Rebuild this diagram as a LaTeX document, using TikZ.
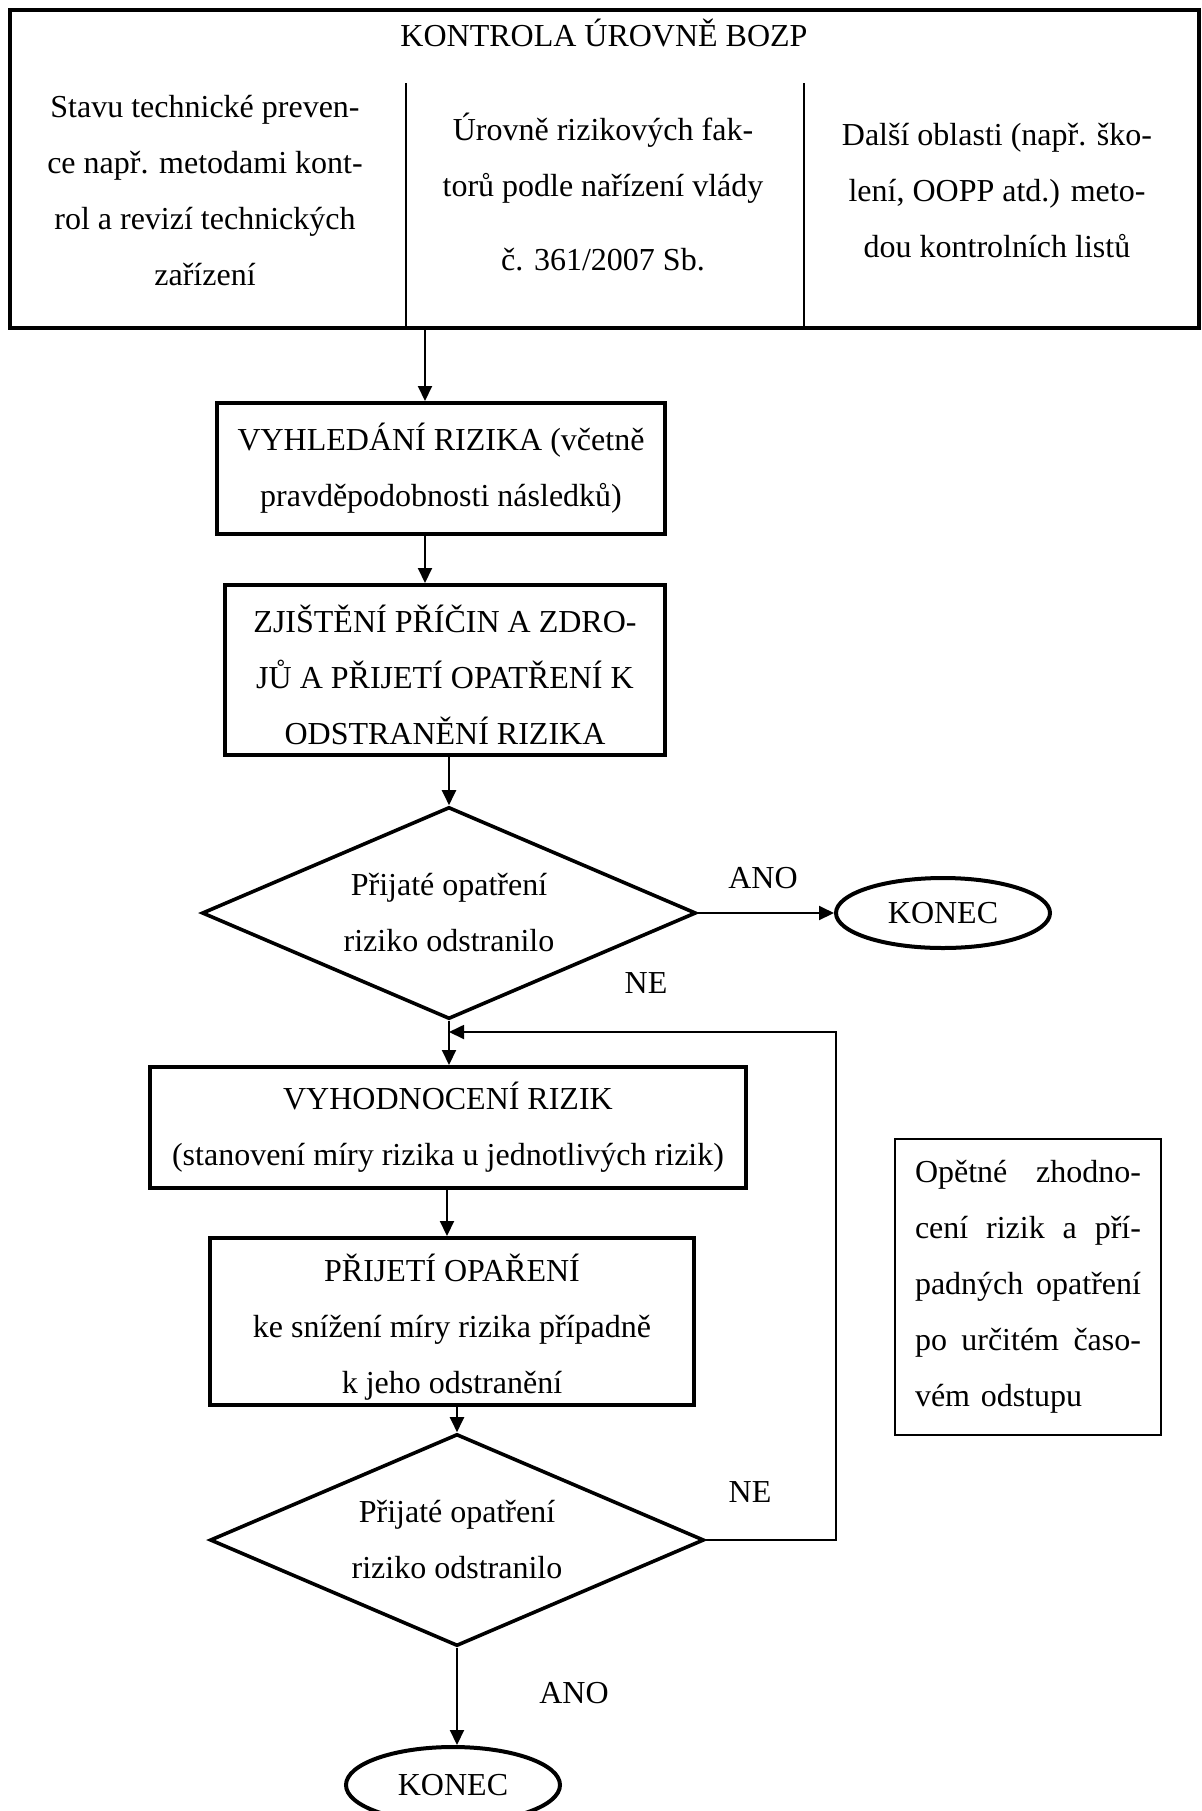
\documentclass[tikz,border=0pt]{standalone}
\usepackage{fontspec}
\setmainfont{Liberation Serif}
\usetikzlibrary{positioning,shapes.geometric,arrows.meta,calc}

\newcommand{\radek}[1]{\leavevmode\hbox to 113pt{#1}}

\begin{document}
\begin{tikzpicture}[x=0.5pt,y=-0.5pt,
    every node/.style={font=\fontsize{16}{28}\selectfont},
    box/.style={draw,rectangle,line width=2pt,align=center,inner sep=0pt},
    rozhod/.style={draw,diamond,aspect=2.33,line width=1.8pt,align=center,inner sep=0pt,minimum width=247pt,minimum height=106pt},
    konec/.style={draw,ellipse,line width=2pt,inner sep=0pt,minimum width=107pt,minimum height=35pt},
    sipka/.style={-{Triangle[length=7.5pt,width=7pt]},line width=1pt}]

    \useasboundingbox (0,0) rectangle (1202,1811);

    % Kontrola urovne BOZP
    \node[box,minimum width=594.5pt,minimum height=159pt] (kontrola) at (604.5,169) {};
    \node (nadpis) at (604,33) {KONTROLA ÚROVNĚ BOZP};
    \coordinate (del1) at (406,83);
    \coordinate (del2) at (804,83);
    \draw[line width=0.9pt] (del1) -- (del1 |- kontrola.south);
    \draw[line width=0.9pt] (del2) -- (del2 |- kontrola.south);
    \node[align=center] (sloupec1) at (205,191) {Stavu technické preven-\\ce např. metodami kont-\\rol a revizí technických\\zařízení};
    \node[align=center] (sloupec2) at (603,192) {Úrovně rizikových fak-\\torů podle nařízení vlády\\[9pt]č. 361/2007 Sb.};
    \node[align=center] (sloupec3) at (997,191) {Další oblasti (např. ško-\\lení, OOPP atd.) meto-\\dou kontrolních listů};

    % Vyhledani a zjisteni
    \node[box,minimum width=224pt,minimum height=65.5pt] (vyhledani) at (441,468.5) {VYHLEDÁNÍ RIZIKA (včetně\\pravděpodobnosti následků)};
    \node[box,minimum width=220pt,minimum height=85pt] (zjisteni) at (445,670) {\rule{0pt}{19pt}ZJIŠTĚNÍ PŘÍČIN A ZDRO-\\JŮ A PŘIJETÍ OPATŘENÍ K\\ODSTRANĚNÍ RIZIKA};

    % Prvni rozhodnuti
    \node[rozhod] (rozh1) at (449,913) {Přijaté opatření\\riziko odstranilo};
    \node[konec] (konec1) at (943,913) {KONEC};
    \node (ano1) at (763,878) {ANO};
    \node (ne1) at (646,983) {NE};

    % Vyhodnoceni a prijeti opatreni
    \node[box,minimum width=298pt,minimum height=60.5pt] (vyhodnoceni) at (448,1127.5) {VYHODNOCENÍ RIZIK\\(stanovení míry rizika u jednotlivých rizik)};
    \node[box,minimum width=242pt,minimum height=83.5pt] (prijeti) at (452,1321.5) {\rule{0pt}{19pt}PŘIJETÍ OPAŘENÍ\\ke snížení míry rizika případně\\k jeho odstranění};

    % Druhe rozhodnuti
    \node[rozhod] (rozh2) at (457,1540) {Přijaté opatření\\riziko odstranilo};
    \node[konec,minimum height=38pt] (konec2) at (453,1785) {KONEC};
    \node (ne2) at (750,1492) {NE};
    \node (ano2) at (574,1693) {ANO};

    % Poznamka
    \node[draw,line width=1pt,align=left,text width=113pt,inner xsep=10pt,minimum height=148pt] (opetne) at (1028,1287)
        {\radek{Opětné\hfill zhodno-}\\\radek{cení\hfill rizik\hfill a\hfill pří-}\\\radek{padných\hfill opatření}\\\radek{po\hfill určitém\hfill časo-}\\vém odstupu};

    % Sipky
    \coordinate (osa) at (425,0);
    \coordinate (osa2) at (447,0);
    \coordinate (zpet) at (836,1032);
    \draw[sipka] (kontrola.south -| osa) -- (vyhledani.north -| osa);
    \draw[sipka] (vyhledani.south -| osa) -- (zjisteni.north -| osa);
    \draw[sipka] (zjisteni.south -| rozh1.north) -- (rozh1.north);
    \draw[sipka] (rozh1.east) -- (konec1.west);
    \draw[sipka] (rozh1.south) -- (rozh1.south |- vyhodnoceni.north);
    \draw[sipka] (vyhodnoceni.south -| osa2) -- (prijeti.north -| osa2);
    \draw[sipka] (prijeti.south -| rozh2.north) -- (rozh2.north);
    \draw[sipka] (rozh2.south) -- (rozh2.south |- konec2.north);
    \draw[sipka,line width=0.9pt] (rozh2.east) -| (zpet) -- (zpet -| rozh1.south);
\end{tikzpicture}
\end{document}
